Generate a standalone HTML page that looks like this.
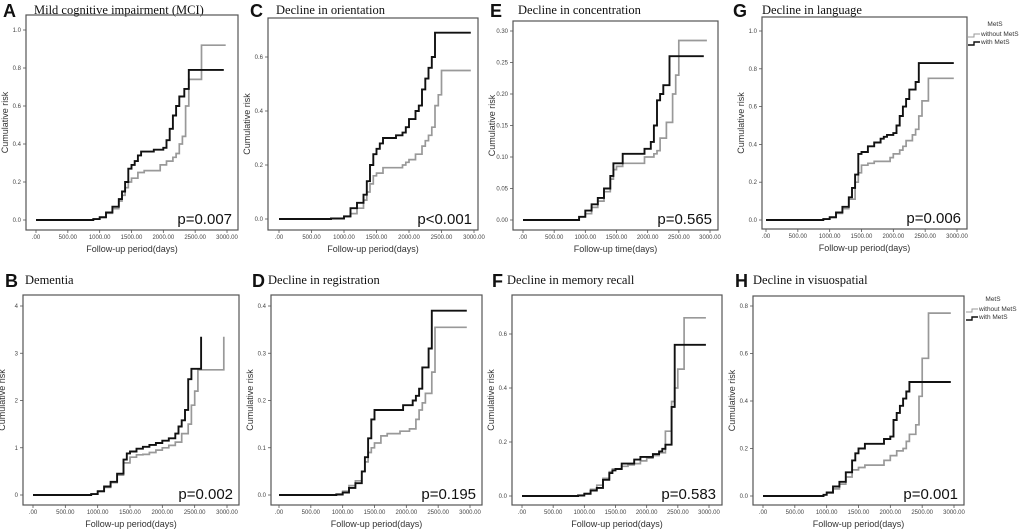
<!DOCTYPE html>
<html><head><meta charset="utf-8">
<style>
html,body{margin:0;padding:0;background:#fff;}
svg{display:block;}
.lt{font-family:"Liberation Sans",sans-serif;font-weight:bold;font-size:18px;fill:#111;}
.tt{font-family:"Liberation Serif",serif;font-size:12.5px;fill:#111;}
.tk{font-family:"Liberation Sans",sans-serif;font-size:6px;fill:#444;}
.ax{font-family:"Liberation Sans",sans-serif;font-size:9px;fill:#333;}
.pv{font-family:"Liberation Sans",sans-serif;font-size:15px;fill:#111;}
.lg{font-family:"Liberation Sans",sans-serif;font-size:6.5px;fill:#333;}
</style></head>
<body>
<svg id="fig" width="1020" height="532" viewBox="0 0 1020 532" xmlns="http://www.w3.org/2000/svg"></svg>
<script>
const xTicks = [0,500,1000,1500,2000,2500,3000];
const xTickLabels = [".00","500.00","1000.00","1500.00","2000.00","2500.00","3000.00"];

const A_with_t = [0,900,1000,1100,1200,1300,1350,1400,1450,1500,1550,1600,1650,1750,1850,2000,2050,2100,2150,2200,2250,2330,2400,2950];
const A_with_v = [0,0.005,0.015,0.04,0.07,0.11,0.15,0.2,0.27,0.29,0.31,0.34,0.36,0.36,0.37,0.38,0.42,0.48,0.55,0.6,0.65,0.69,0.79,0.79];
const A_wo_t = [0,900,1000,1100,1200,1300,1350,1400,1450,1500,1600,1700,1850,1950,2050,2150,2200,2250,2300,2350,2400,2600,2980];
const A_wo_v = [0,0.005,0.012,0.035,0.06,0.1,0.13,0.17,0.2,0.22,0.25,0.26,0.26,0.29,0.31,0.33,0.35,0.4,0.44,0.6,0.74,0.92,0.92];

const C_with_t = [0,800,1000,1100,1200,1300,1350,1400,1450,1500,1550,1600,1700,1800,1900,1950,2000,2100,2150,2200,2250,2300,2350,2400,2950];
const C_with_v = [0,0.002,0.01,0.04,0.06,0.09,0.14,0.2,0.24,0.26,0.28,0.3,0.3,0.31,0.32,0.34,0.37,0.4,0.42,0.48,0.52,0.56,0.6,0.69,0.69];
const C_wo_t = [0,800,1000,1100,1200,1300,1350,1400,1450,1500,1600,1700,1800,1900,1950,2000,2100,2200,2250,2300,2350,2400,2450,2500,2950];
const C_wo_v = [0,0.002,0.008,0.02,0.04,0.07,0.1,0.13,0.16,0.17,0.19,0.19,0.19,0.2,0.21,0.22,0.24,0.27,0.29,0.31,0.34,0.42,0.46,0.55,0.55];

const E_with_t = [0,700,900,1000,1100,1200,1300,1400,1450,1500,1600,1800,1950,2050,2100,2150,2200,2250,2350,2900];
const E_with_v = [0,0,0.005,0.015,0.025,0.035,0.05,0.07,0.09,0.09,0.105,0.105,0.113,0.124,0.15,0.19,0.2,0.214,0.26,0.26];
const E_wo_t = [0,700,900,1000,1100,1200,1300,1400,1450,1500,1600,1800,1950,2100,2150,2200,2300,2400,2450,2500,2950];
const E_wo_v = [0,0,0.005,0.01,0.02,0.03,0.045,0.065,0.08,0.085,0.09,0.09,0.1,0.105,0.11,0.13,0.155,0.2,0.23,0.285,0.285];

const G_with_t = [0,900,1000,1100,1200,1300,1350,1400,1450,1500,1600,1700,1800,1850,1900,2000,2050,2100,2150,2200,2250,2350,2400,2950];
const G_with_v = [0,0.005,0.015,0.04,0.07,0.12,0.17,0.24,0.35,0.36,0.39,0.41,0.43,0.44,0.45,0.46,0.5,0.55,0.6,0.64,0.69,0.73,0.83,0.83];
const G_wo_t = [0,900,1000,1100,1200,1300,1400,1450,1500,1600,1700,1850,1950,2000,2100,2150,2200,2300,2350,2400,2450,2550,2950];
const G_wo_v = [0,0.005,0.012,0.035,0.06,0.11,0.2,0.25,0.29,0.3,0.31,0.31,0.33,0.35,0.37,0.39,0.42,0.45,0.48,0.55,0.63,0.75,0.75];

const B_with_t = [0,900,1000,1100,1200,1300,1400,1450,1500,1600,1700,1800,1900,2000,2100,2200,2250,2300,2350,2400,2450,2600];
const B_with_v = [0,0.02,0.08,0.18,0.28,0.45,0.75,0.88,0.92,0.98,1.02,1.06,1.1,1.15,1.2,1.3,1.45,1.58,1.8,2.45,2.67,3.35];
const B_wo_t = [0,900,1000,1100,1200,1300,1400,1500,1600,1700,1800,1900,2000,2100,2200,2300,2400,2450,2500,2550,2950];
const B_wo_v = [0,0.02,0.07,0.16,0.26,0.42,0.68,0.8,0.85,0.86,0.9,0.95,1.0,1.05,1.12,1.3,1.5,1.9,2.2,2.65,3.35];

const D_with_t = [0,900,1000,1100,1200,1300,1350,1400,1450,1500,1600,1900,1950,2050,2100,2150,2200,2250,2350,2400,2950];
const D_with_v = [0,0.001,0.005,0.015,0.025,0.05,0.08,0.12,0.16,0.18,0.18,0.18,0.19,0.19,0.2,0.21,0.225,0.27,0.31,0.39,0.39];
const D_wo_t = [0,900,1000,1100,1200,1300,1350,1400,1450,1500,1600,1700,1900,2050,2150,2200,2250,2300,2400,2450,2950];
const D_wo_v = [0,0.002,0.008,0.02,0.03,0.05,0.07,0.09,0.1,0.11,0.125,0.13,0.135,0.14,0.16,0.18,0.195,0.215,0.26,0.355,0.355];

const F_with_t = [0,900,1000,1100,1200,1300,1400,1450,1500,1600,1700,1800,1900,2000,2100,2200,2250,2300,2400,2450,2950];
const F_with_v = [0,0.002,0.008,0.02,0.03,0.06,0.085,0.095,0.1,0.12,0.12,0.135,0.145,0.145,0.155,0.165,0.175,0.19,0.33,0.56,0.56];
const F_wo_t = [0,900,1000,1100,1200,1300,1400,1450,1500,1600,1700,1800,1900,2000,2100,2200,2300,2400,2450,2500,2600,2950];
const F_wo_v = [0,0.003,0.01,0.025,0.04,0.065,0.09,0.1,0.1,0.11,0.115,0.12,0.13,0.14,0.15,0.16,0.24,0.35,0.4,0.47,0.66,0.66];

const H_with_t = [0,950,1000,1100,1200,1300,1400,1450,1500,1600,1700,1800,1900,2000,2050,2100,2150,2200,2250,2300,2950];
const H_with_v = [0,0.005,0.015,0.04,0.06,0.1,0.15,0.18,0.2,0.22,0.22,0.22,0.24,0.25,0.32,0.35,0.38,0.41,0.44,0.48,0.48];
const H_wo_t = [0,950,1000,1100,1200,1300,1400,1500,1600,1800,1900,2000,2100,2200,2250,2300,2400,2450,2500,2600,2950];
const H_wo_v = [0,0.005,0.012,0.03,0.05,0.08,0.11,0.12,0.13,0.13,0.15,0.17,0.19,0.2,0.23,0.26,0.3,0.42,0.58,0.77,0.77];

const A_yTicks = [0,0.2,0.4,0.6,0.8,1.0];
const C_yTicks = [0,0.2,0.4,0.6];
const E_yTicks = [0,0.05,0.1,0.15,0.2,0.25,0.3];
const G_yTicks = [0,0.2,0.4,0.6,0.8,1.0];
const B_yTicks = [0,1,2,3,4];
const D_yTicks = [0,0.1,0.2,0.3,0.4];
const F_yTicks = [0,0.2,0.4,0.6];
const H_yTicks = [0,0.2,0.4,0.6,0.8];
const pValues = {A:"p=0.007",C:"p<0.001",E:"p=0.565",G:"p=0.006",B:"p=0.002",D:"p=0.195",F:"p=0.583",H:"p=0.001"};

const NS = "http://www.w3.org/2000/svg";
const svg = document.getElementById('fig');
function mk(tag, attrs, parent, text){
  const e = document.createElementNS(NS, tag);
  for (const k in attrs) e.setAttribute(k, attrs[k]);
  if (text !== undefined) e.textContent = text;
  (parent||svg).appendChild(e);
  return e;
}

const panels = [
 {id:'A',title:'Mild cognitive impairment (MCI)',lx:3,ly:17,tx:34,box:[26,15,238,230],xp:[36,227],yp:[220,30],yv:1.0,yt:A_yTicks,dec:1,wt:A_with_t,wv:A_with_v,gt:A_wo_t,gv:A_wo_v,xt:'Follow-up period(days)'},
 {id:'C',title:'Decline in orientation',lx:250,ly:17,tx:276,box:[268,18,478,230],xp:[279,474],yp:[219,57],yv:0.6,yt:C_yTicks,dec:1,wt:C_with_t,wv:C_with_v,gt:C_wo_t,gv:C_wo_v,xt:'Follow-up period(days)'},
 {id:'E',title:'Decline in concentration',lx:490,ly:17,tx:518,box:[513,21,718,230],xp:[523,710],yp:[220,31],yv:0.3,yt:E_yTicks,dec:2,wt:E_with_t,wv:E_with_v,gt:E_wo_t,gv:E_wo_v,xt:'Follow-up time(days)'},
 {id:'G',title:'Decline in language',lx:733,ly:17,tx:762,box:[762,17,967,229],xp:[766,957],yp:[220,31],yv:1.0,yt:G_yTicks,dec:1,wt:G_with_t,wv:G_with_v,gt:G_wo_t,gv:G_wo_v,xt:'Follow-up period(days)',legend:[968,26]},
 {id:'B',title:'Dementia',lx:5,ly:287,tx:25,box:[23,295,239,505],xp:[33,227],yp:[495,306],yv:4,yt:B_yTicks,dec:0,wt:B_with_t,wv:B_with_v,gt:B_wo_t,gv:B_wo_v,xt:'Follow-up period(days)'},
 {id:'D',title:'Decline in registration',lx:252,ly:287,tx:268,box:[271,295,482,505],xp:[279,470],yp:[495,306],yv:0.4,yt:D_yTicks,dec:1,wt:D_with_t,wv:D_with_v,gt:D_wo_t,gv:D_wo_v,xt:'Follow-up period(days)'},
 {id:'F',title:'Decline in memory recall',lx:492,ly:287,tx:507,box:[512,295,722,505],xp:[522,709],yp:[496,334],yv:0.6,yt:F_yTicks,dec:1,wt:F_with_t,wv:F_with_v,gt:F_wo_t,gv:F_wo_v,xt:'Follow-up period(days)'},
 {id:'H',title:'Decline in visuospatial',lx:735,ly:287,tx:753,box:[753,296,964,505],xp:[763,954],yp:[496,306],yv:0.8,yt:H_yTicks,dec:1,wt:H_with_t,wv:H_with_v,gt:H_wo_t,gv:H_wo_v,xt:'Follow-up period(days)',legend:[966,301]}
];

function stepPath(ts, vs, X, Y){
  let d = 'M'+X(ts[0]).toFixed(1)+','+Y(vs[0]).toFixed(1);
  for (let i=1;i<ts.length;i++){
    d += ' H'+X(ts[i]).toFixed(1)+' V'+Y(vs[i]).toFixed(1);
  }
  return d;
}

panels.forEach(p=>{
  const g = mk('g',{});
  
  
  const X = t => p.xp[0] + (p.xp[1]-p.xp[0])*t/3000;
  const Y = v => p.yp[0] - (p.yp[0]-p.yp[1])*v/p.yv;
  const [x1,y1,x2,y2] = p.box;

  const lt = mk('text',{x:p.lx,y:p.ly,class:'lt'},g,p.id);
  
  
  const tt = mk('text',{x:p.tx,y:p.ly-3,class:'tt'},g,p.title);
  
  

  const box = mk('rect',{x:x1,y:y1,width:x2-x1,height:y2-y1,fill:'none',stroke:'#555','stroke-width':1.2},g);
  
  

  xTicks.forEach((t,i)=>{
    mk('line',{x1:X(t),x2:X(t),y1:y2,y2:y2+3,stroke:'#555','stroke-width':0.8},g);
    const tl = mk('text',{x:X(t),y:y2+9,class:'tk','text-anchor':'middle'},g,xTickLabels[i]);
    
    
  });
  p.yt.forEach(v=>{
    mk('line',{x1:x1-3,x2:x1,y1:Y(v),y2:Y(v),stroke:'#555','stroke-width':0.8},g);
    const tl = mk('text',{x:x1-5,y:Y(v)+2,class:'tk','text-anchor':'end'},g,v.toFixed(p.dec));
    
    
  });
  const xa = mk('text',{x:(x1+x2)/2,y:y2+22,class:'ax','text-anchor':'middle'},g,p.xt);
  
  
  const yy = (y1+y2)/2, yx = x1-18;
  const ya = mk('text',{x:yx,y:yy,class:'ax','text-anchor':'middle',transform:'rotate(-90 '+yx+' '+yy+')'},g,'Cumulative risk');
  
  

  const gl = mk('path',{d:stepPath(p.gt,p.gv,X,Y),fill:'none',stroke:'#999','stroke-width':1.7},g);
  
  
  const bl = mk('path',{d:stepPath(p.wt,p.wv,X,Y),fill:'none',stroke:'#111','stroke-width':1.9},g);
  
  

  const pv = mk('text',{x:x2-6,y:y2-6,class:'pv','text-anchor':'end'},g,pValues[p.id]);
  
  

  if (p.legend){
    const [lx,ly] = p.legend;
    const lg = mk('g',{},g);
    
    
    mk('text',{x:lx+27,y:ly,class:'lg','font-size':'8px','text-anchor':'middle'},lg,'MetS');
    const e1 = mk('path',{d:'M'+lx+','+(ly+11)+' h6 v-3 h6',fill:'none',stroke:'#999','stroke-width':1},lg);
    
    
    mk('text',{x:lx+13,y:ly+10,class:'lg'},lg,'without MetS');
    const e2 = mk('path',{d:'M'+lx+','+(ly+19)+' h6 v-3 h6',fill:'none',stroke:'#111','stroke-width':1.4},lg);
    
    
    mk('text',{x:lx+13,y:ly+18,class:'lg'},lg,'with MetS');
  }
});
</script>
</body></html>
